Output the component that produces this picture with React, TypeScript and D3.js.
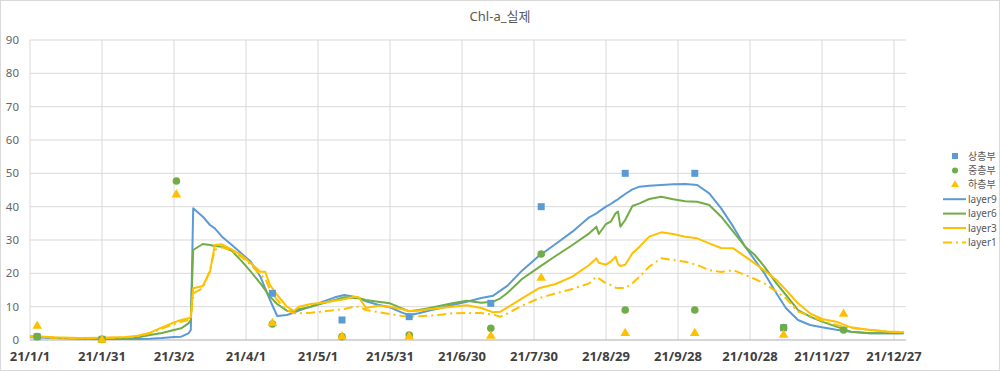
import React from "react";
import * as d3 from "d3";

// day offsets from 2021-01-01 for the daily layer lines
const lineDays = [
  0, 10, 20, 30, 40, 45, 50, 55, 60, 63, 66, 67, 68, 72, 75, 77, 80, 84, 88, 92,
  96, 98, 100, 103, 107, 110, 112, 117, 122, 127, 131, 135, 137, 140, 145, 150, 155, 158, 162, 166,
  171, 176, 182, 188, 193, 196, 199, 205, 212, 219, 226, 233, 236, 237, 240, 242, 244, 245, 246, 248,
  251, 254, 258, 263, 268, 273, 278, 283, 288, 293, 298, 302, 306, 311, 315, 320, 325, 330, 336, 342,
  350, 358, 364,
];

const layer9 = [
  0.8, 0.6, 0.4, 0.3, 0.3, 0.3, 0.4, 0.6, 0.9, 1.0, 2.0, 3.0, 39.5, 37.0, 34.5, 33.5, 31.0, 28.6, 26.0, 23.5,
  19.0, 15.5, 12.0, 7.2, 7.5, 8.2, 8.8, 10.0, 11.5, 12.8, 13.5, 13.0, 12.6, 11.6, 10.6, 9.8, 8.2, 7.5, 8.0, 8.8,
  9.6, 10.5, 11.5, 12.6, 13.3, 14.8, 16.3, 20.8, 25.2, 28.8, 32.5, 36.8, 38.0, 38.5, 40.0, 40.8, 41.8, 42.2, 42.8, 43.8,
  45.2, 46.0, 46.3, 46.5, 46.7, 46.8, 46.5, 44.0, 39.5, 34.0, 28.0, 24.0, 20.0, 14.0, 9.5, 6.0, 4.5, 3.8, 3.1, 2.5,
  2.0, 2.0, 2.0,
];

const layer6 = [
  1.2, 0.7, 0.6, 0.6, 0.6, 0.8, 1.5, 2.1, 3.0, 3.5, 5.0, 6.0, 27.0, 28.8, 28.5, 28.2, 28.0, 26.8, 23.8, 20.5,
  17.0, 15.0, 13.0, 10.8, 8.8, 8.5, 9.2, 10.0, 11.0, 12.0, 12.8, 12.6, 12.5, 12.0, 11.5, 11.0, 9.5, 8.6, 9.0, 9.5,
  10.3, 11.0, 11.8, 11.2, 11.5, 12.5, 14.2, 18.3, 21.8, 25.2, 28.5, 32.0, 34.0, 31.8, 34.8, 35.5, 38.0, 38.5, 34.0, 36.0,
  40.2, 41.0, 42.3, 43.0, 42.2, 41.6, 41.5, 40.5, 37.0, 32.5, 28.0, 25.5, 22.0, 17.0, 13.5, 9.0, 7.0, 5.5, 4.0, 2.5,
  2.0, 2.0, 2.0,
];

const layer3 = [
  1.2, 0.8, 0.6, 0.7, 0.9, 1.3, 2.2, 3.8, 5.3, 6.0, 6.5, 6.8, 15.5, 16.2, 20.5, 28.5, 28.7, 27.2, 25.5, 23.0,
  20.5, 20.5, 16.5, 13.5, 10.0, 8.7, 10.0, 10.8, 11.2, 11.8, 12.2, 13.0, 12.8, 9.6, 10.3, 10.0, 9.2, 8.7, 8.8, 9.2,
  9.6, 10.0, 10.4, 9.6, 8.3, 8.5, 9.8, 12.5, 15.5, 16.8, 19.0, 22.5, 24.5, 23.2, 22.6, 23.5, 25.0, 22.8, 22.2, 22.6,
  26.0, 28.0, 31.0, 32.3, 31.8, 31.0, 30.5, 29.0, 27.6, 27.5, 25.0, 23.0, 20.8, 18.0, 15.0, 11.0, 8.0, 6.3, 5.5, 3.8,
  3.0, 2.5, 2.3,
];

const layer1 = [
  1.0, 0.7, 0.5, 0.6, 0.8, 1.1, 2.0, 3.4, 4.8, 5.5, 6.0, 6.3, 14.0, 15.5, 21.0, 27.0, 27.8, 26.8, 25.0, 22.5,
  19.5, 18.5, 15.0, 12.0, 9.0, 8.0, 8.0, 8.2, 8.5, 9.0, 9.3, 10.0, 10.0, 9.0, 8.4, 7.8, 7.2, 7.0, 7.1, 7.3,
  7.6, 8.0, 8.1, 8.1, 7.6, 7.0, 8.0, 10.3, 12.5, 14.0, 15.3, 17.0, 19.0, 18.5, 17.0, 16.5, 15.7, 15.6, 15.6, 15.6,
  17.0, 19.0, 22.0, 24.5, 24.0, 23.5, 22.5, 21.0, 20.4, 21.0, 19.5, 18.3, 17.0, 14.5, 12.5, 8.5, 7.2, 5.8, 4.5, 3.6,
  3.0, 2.5, 2.5,
];

// measurement days and observed values
const sampleDays = [3, 30, 61, 101, 130, 158, 192, 213, 248, 277, 314, 339];
const upper = [1.0, 0.2, null, 14.0, 6.0, 7.0, 11.0, 40.0, 50.0, 50.0, 3.7, null];
const middle = [1.0, 0.2, 47.7, 4.8, 1.0, 1.5, 3.5, 25.8, 9.0, 9.0, 3.7, 3.0];
const lower = [4.2, 0.0, 43.6, 5.0, 1.0, 1.0, 1.2, 18.6, 2.0, 2.0, 1.5, 7.8];

const yTicks = [0, 10, 20, 30, 40, 50, 60, 70, 80, 90];
const xTickDays = [0, 30, 60, 90, 120, 150, 180, 210, 240, 270, 300, 330, 360];

const BLUE = "#5B9BD5";
const GREEN = "#70AD47";
const YELLOW = "#FFC000";
const FONT = "'Noto Sans', 'Noto Sans CJK KR', sans-serif";

const W = 1000;
const H = 371;
const start = new Date(2021, 0, 1);
const toDate = (d: number) => d3.timeDay.offset(start, d);

const App = () => {
  const x = d3.scaleTime().domain([start, toDate(365)]).range([30, 906]);
  const y = d3.scaleLinear().domain([0, 90]).range([340, 40]);
  const fmt = d3.timeFormat("%y/%-m/%-d");

  const line = (vals: (number | null)[]) =>
    d3
      .line<number>()
      .defined((_, i) => vals[i] != null)
      .x((d) => x(toDate(d)))
      .y((_, i) => y(vals[i] as number))(lineDays) || "";

  const layers = [
    { name: "layer9", vals: layer9, color: BLUE, dash: undefined },
    { name: "layer6", vals: layer6, color: GREEN, dash: undefined },
    { name: "layer3", vals: layer3, color: YELLOW, dash: undefined },
    { name: "layer1", vals: layer1, color: YELLOW, dash: "9,4,2,4" },
  ];

  const tri = d3.symbol().type(d3.symbolTriangle).size(40)() || "";

  const legendX = 955;
  const legendY0 = 156;
  const step = 14.4;

  return (
    <svg
      width={W}
      height={H}
      style={{ position: "absolute", left: 0, top: 0, background: "#fff" }}
      fontFamily={FONT}
    >
      <rect x={0.5} y={0.5} width={W - 1} height={H - 1} fill="#fff" stroke="#d9d9d9" />
      <text x={500} y={21} textAnchor="middle" fontSize={13} fill="#595959">
        Chl-a_실제
      </text>

      {/* grid */}
      {yTicks.map((t) => (
        <line key={"gy" + t} x1={30} x2={906} y1={y(t)} y2={y(t)} stroke="#d9d9d9" strokeWidth={1} />
      ))}
      {xTickDays.map((d) => (
        <line key={"gx" + d} x1={x(toDate(d))} x2={x(toDate(d))} y1={40} y2={340} stroke="#d9d9d9" strokeWidth={1} />
      ))}
      <line x1={30} x2={906} y1={340} y2={340} stroke="#bfbfbf" />

      {/* y labels */}
      {yTicks.map((t) => (
        <text key={"ty" + t} x={19} y={y(t)} dy="0.35em" textAnchor="end" fontSize={11.5} fill="#666">
          {t}
        </text>
      ))}
      {/* x labels */}
      {xTickDays.map((d) => (
        <text key={"tx" + d} x={x(toDate(d))} y={361} textAnchor="middle" fontSize={13} fontWeight="bold" fill="#404040">
          {fmt(toDate(d))}
        </text>
      ))}

      {/* layer lines */}
      {layers.map((l) => (
        <path
          key={l.name}
          d={line(l.vals)}
          fill="none"
          stroke={l.color}
          strokeWidth={2}
          strokeDasharray={l.dash}
          strokeLinejoin="round"
        />
      ))}

      {/* observation markers */}
      {sampleDays.map((d, i) =>
        upper[i] == null ? null : (
          <rect key={"u" + i} x={x(toDate(d)) - 3.5} y={y(upper[i] as number) - 3.5} width={7} height={7} fill={BLUE} />
        )
      )}
      {sampleDays.map((d, i) =>
        middle[i] == null ? null : (
          <circle key={"m" + i} cx={x(toDate(d))} cy={y(middle[i] as number)} r={3.8} fill={GREEN} />
        )
      )}
      {sampleDays.map((d, i) =>
        lower[i] == null ? null : (
          <path key={"l" + i} d={tri} transform={`translate(${x(toDate(d))},${y(lower[i] as number)})`} fill={YELLOW} />
        )
      )}

      {/* legend */}
      <g fontSize={10} fill="#595959">
        <rect x={legendX - 3} y={legendY0 - 3} width={6} height={6} fill={BLUE} />
        <text x={968} y={legendY0} dy="0.35em">상층부</text>
        <circle cx={legendX} cy={legendY0 + step} r={3} fill={GREEN} />
        <text x={968} y={legendY0 + step} dy="0.35em">중층부</text>
        <path d={d3.symbol().type(d3.symbolTriangle).size(28)() || ""} transform={`translate(${legendX},${legendY0 + 2 * step})`} fill={YELLOW} />
        <text x={968} y={legendY0 + 2 * step} dy="0.35em">하층부</text>
        {layers.map((l, i) => {
          const yy = legendY0 + (3 + i) * step;
          return (
            <g key={"lg" + l.name}>
              <line x1={943} x2={966} y1={yy} y2={yy} stroke={l.color} strokeWidth={2} strokeDasharray={l.dash} />
              <text x={968} y={yy} dy="0.35em">{l.name}</text>
            </g>
          );
        })}
      </g>
    </svg>
  );
};

export default App;
